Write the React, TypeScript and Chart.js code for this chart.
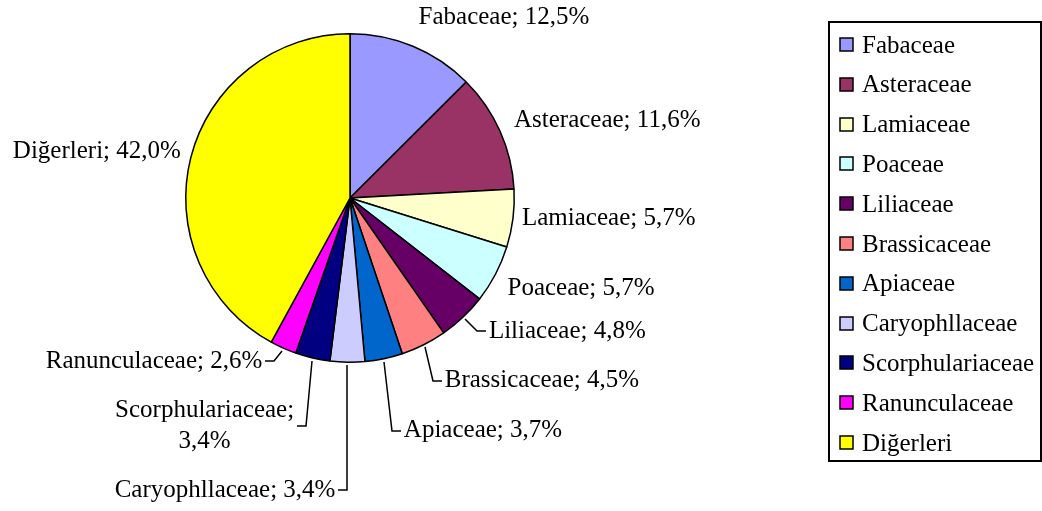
import React, { useEffect, useRef } from "react";
import { Chart, registerables } from "chart.js";

Chart.register(...registerables);

const categories = [
  "Fabaceae",
  "Asteraceae",
  "Lamiaceae",
  "Poaceae",
  "Liliaceae",
  "Brassicaceae",
  "Apiaceae",
  "Caryophllaceae",
  "Scorphulariaceae",
  "Ranunculaceae",
  "Diğerleri",
];
const percentages = [12.5, 11.6, 5.7, 5.7, 4.8, 4.5, 3.7, 3.4, 3.4, 2.6, 42.0];
const colors = [
  "#9999FF",
  "#993366",
  "#FFFFCC",
  "#CCFFFF",
  "#660066",
  "#FF8080",
  "#0066CC",
  "#CCCCFF",
  "#000080",
  "#FF00FF",
  "#FFFF00",
];
// label lines broken like the reference
const lineBreakAfterName = [false, false, false, false, false, false, false, false, true, false, false];

// label placement: offset of the text anchor from the slice's outer mid point
type Place = { dx: number; dy: number; align: "left" | "right" | "center"; leader: boolean };
const placements: Place[] = [
  { dx: 91, dy: -29, align: "center", leader: false },
  { dx: 14, dy: -11, align: "left", leader: false },
  { dx: 9, dy: 0, align: "left", leader: false },
  { dx: 12, dy: 14, align: "left", leader: false },
  { dx: 26, dy: 14, align: "left", leader: true },
  { dx: 21, dy: 36, align: "left", leader: true },
  { dx: 20, dy: 72, align: "left", leader: true },
  { dx: -12, dy: 128, align: "right", leader: true },
  { dx: -108, dy: 68, align: "center", leader: true },
  { dx: -21, dy: 13, align: "right", leader: true },
  { dx: -10, dy: -6, align: "right", leader: false },
];

const FONT = '25px "Liberation Serif", "Times New Roman", serif';

function fmt(v: number) {
  return v.toFixed(1).replace(".", ",") + "%";
}

const labelPlugin = {
  id: "pieLabels",
  afterDraw(chart: any) {
    const ctx = chart.ctx as CanvasRenderingContext2D;
    const meta = chart.getDatasetMeta(0);
    ctx.save();
    ctx.font = FONT;
    ctx.fillStyle = "#000";
    ctx.strokeStyle = "#000";
    ctx.lineWidth = 1.5;
    ctx.textBaseline = "middle";
    meta.data.forEach((arc: any, i: number) => {
      const mid = (arc.startAngle + arc.endAngle) / 2;
      const r = arc.outerRadius;
      const ox = arc.x + Math.cos(mid) * r;
      const oy = arc.y + Math.sin(mid) * r;
      const p = placements[i];
      const tx = ox + p.dx;
      const ty = oy + p.dy;
      const lines = lineBreakAfterName[i]
        ? [categories[i] + ";", fmt(percentages[i])]
        : [categories[i] + "; " + fmt(percentages[i])];
      const lh = 31;
      const widths = lines.map((l) => ctx.measureText(l).width);
      const maxW = Math.max(...widths);
      const startY = ty - ((lines.length - 1) * lh) / 2;
      lines.forEach((l, k) => {
        ctx.textAlign = p.align;
        ctx.fillText(l, tx, startY + k * lh);
      });
      if (p.leader) {
        let edge: number;
        let dir: number;
        if (p.align === "left") {
          edge = tx;
          dir = -1;
        } else if (p.align === "right") {
          edge = tx;
          dir = 1;
        } else {
          edge = tx + maxW / 2;
          dir = 1;
        }
        const sx = arc.x + Math.cos(mid) * (r + 3);
        const sy = arc.y + Math.sin(mid) * (r + 3);
        const cx = edge + dir * 12;
        ctx.beginPath();
        ctx.moveTo(Math.round(sx), Math.round(sy));
        ctx.lineTo(Math.round(cx), Math.round(ty));
        ctx.lineTo(Math.round(edge + dir * 3), Math.round(ty));
        ctx.stroke();
      }
    });
    ctx.restore();
  },
};

const legendPlugin = {
  id: "boxLegend",
  afterDraw(chart: any) {
    const ctx = chart.ctx as CanvasRenderingContext2D;
    ctx.save();
    const bx = 829;
    const by = 22;
    const bw = 212;
    const bh = 439;
    ctx.strokeStyle = "#000";
    ctx.lineWidth = 2;
    ctx.strokeRect(bx, by, bw, bh);
    ctx.font = FONT;
    ctx.textBaseline = "middle";
    ctx.textAlign = "left";
    const step = 39.8;
    categories.forEach((c, i) => {
      const cy = 45 + i * step;
      ctx.fillStyle = colors[i];
      ctx.fillRect(840, Math.round(cy - 7), 13, 13);
      ctx.lineWidth = 1.5;
      ctx.strokeStyle = "#000";
      ctx.strokeRect(840, Math.round(cy - 7), 13, 13);
      ctx.fillStyle = "#000";
      ctx.fillText(c, 862, cy + 1);
    });
    ctx.restore();
  },
};

export default function App() {
  const ref = useRef<HTMLCanvasElement | null>(null);
  useEffect(() => {
    if (!ref.current) return;
    const chart = new Chart(ref.current, {
      type: "pie",
      data: {
        labels: categories,
        datasets: [
          {
            data: percentages,
            backgroundColor: colors,
            borderColor: "#000",
            borderWidth: 1.5,
          },
        ],
      },
      options: {
        animation: false,
        responsive: false,
        layout: { padding: { left: 185, top: 33, right: 527, bottom: 148 } },
        plugins: {
          legend: { display: false },
          tooltip: { enabled: false },
        },
      },
      plugins: [labelPlugin, legendPlugin],
    });
    return () => chart.destroy();
  }, []);
  return (
    <div style={{ position: "fixed", left: 0, top: 0, width: 1042, height: 511, background: "#fff" }}>
      <canvas ref={ref} width={1042} height={511} style={{ width: 1042, height: 511 }} />
    </div>
  );
}
